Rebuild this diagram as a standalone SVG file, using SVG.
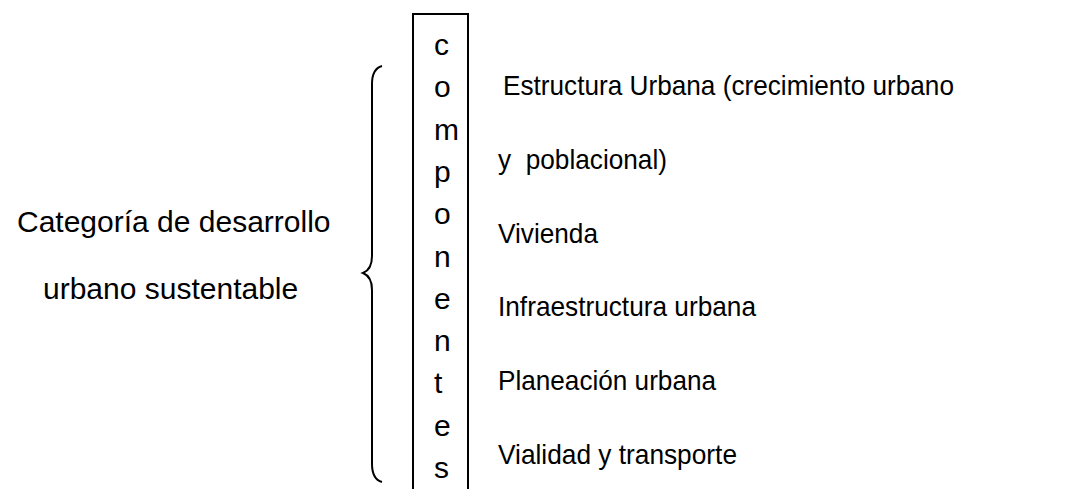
<svg xmlns="http://www.w3.org/2000/svg" width="1080" height="489" viewBox="0 0 1080 489">
<style>
.t{font-family:"Liberation Sans",Arial,sans-serif;fill:#000}
.l{font-size:30px}
.c{font-size:30px}
.r{font-size:28px}
.s{fill:none;stroke:#000;stroke-width:2}
</style>
<rect width="1080" height="489" fill="#fff"/>
<g id="categoria">
<text class="t l" x="17" y="232">Categoría de desarrollo</text>
<text class="t l" x="43" y="299">urbano sustentable</text>
</g>
<g id="connectors">
<path id="brace" class="s" d="M382,66 C375,68 372,74 372,84 L372,256 C372,266 368,271 363,273 C368,275 372,280 372,290 L372,464 C372,474 375,480 382,482"/>
</g>
<g id="componentes">
<path class="s" d="M413,489 V14 H468 V489"/>
<text class="t c" x="434" y="55">c</text>
<text class="t c" x="434" y="97">o</text>
<text class="t c" x="434" y="140">m</text>
<text class="t c" x="434" y="182">p</text>
<text class="t c" x="434" y="224">o</text>
<text class="t c" x="434" y="267">n</text>
<text class="t c" x="434" y="309">e</text>
<text class="t c" x="434" y="351">n</text>
<text class="t c" x="434" y="393">t</text>
<text class="t c" x="434" y="436">e</text>
<text class="t c" x="434" y="478">s</text>
</g>
<g id="lista">
<text class="t r" x="503" y="95" textLength="451" lengthAdjust="spacingAndGlyphs">Estructura Urbana (crecimiento urbano</text>
<text class="t r" x="498" y="169" xml:space="preserve" textLength="169" lengthAdjust="spacingAndGlyphs">y  poblacional)</text>
<text class="t r" x="498" y="243" textLength="100" lengthAdjust="spacingAndGlyphs">Vivienda</text>
<text class="t r" x="498" y="316" textLength="258" lengthAdjust="spacingAndGlyphs">Infraestructura urbana</text>
<text class="t r" x="498" y="390" textLength="218" lengthAdjust="spacingAndGlyphs">Planeación urbana</text>
<text class="t r" x="498" y="464" textLength="239" lengthAdjust="spacingAndGlyphs">Vialidad y transporte</text>
</g>
</svg>
